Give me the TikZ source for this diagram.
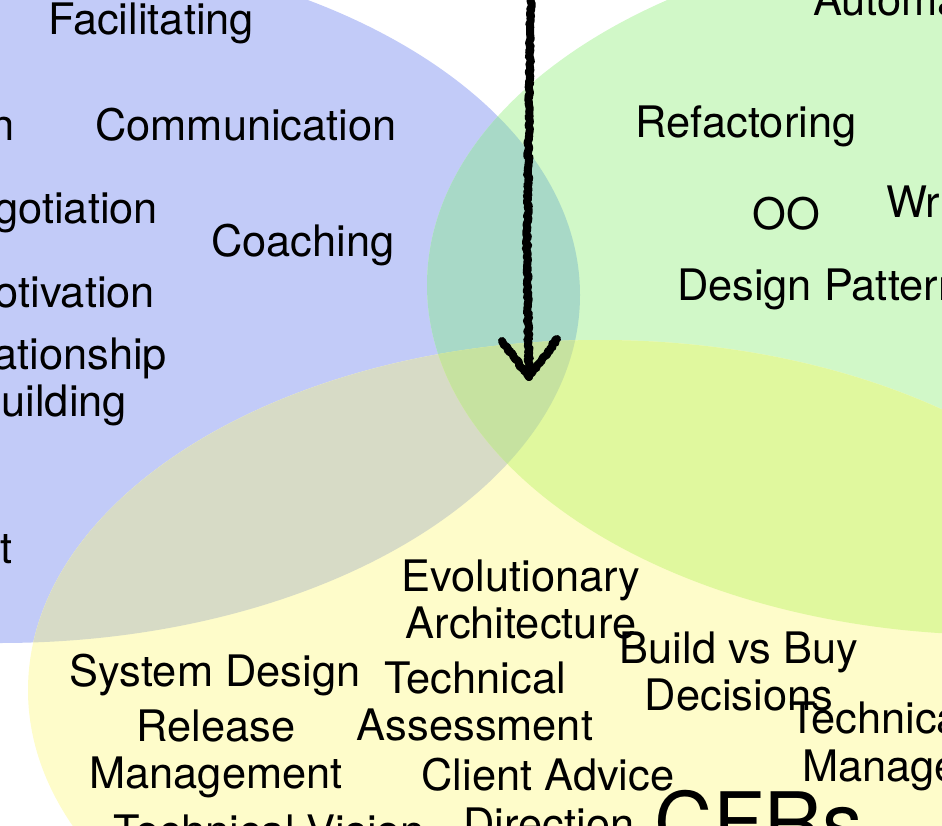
\documentclass[tikz,border=0pt]{standalone}
\usepackage{fontspec}
\setmainfont{TeX Gyre Heros}
\usetikzlibrary{positioning,decorations.pathmorphing}

\definecolor{softblue}{HTML}{C2CBF8}
\definecolor{techgreen}{HTML}{D1F8C8}
\definecolor{consultyellow}{HTML}{FEFCCA}
\definecolor{softtech}{HTML}{A8D9C7}
\definecolor{softconsult}{HTML}{D7DBC6}
\definecolor{techconsult}{HTML}{E0F89E}
\definecolor{allthree}{HTML}{C6E2A0}

\newcommand{\skillfont}{\fontsize{43.4}{47}\selectfont}
\newcommand{\hugeskillfont}{\fontsize{82}{90}\selectfont}

\tikzset{
  skill/.style={font=\skillfont, inner sep=0pt, outer sep=0pt, anchor=base},
  cutleft/.style={skill, anchor=base east},
  cutright/.style={skill, anchor=base west},
  sketch/.style={line width=8pt, line cap=round, line join=round, decorate,
    decoration={random steps, segment length=2pt, amplitude=1.2pt}}
}

\def\softskills{(0,295) ellipse [x radius=580pt, y radius=348pt]}
\def\techskills{(1000,285) ellipse [x radius=573pt, y radius=350pt]}
\def\consultskills{(600,690) ellipse [x radius=572pt, y radius=350pt]}

\begin{document}
\begin{tikzpicture}[x=1pt, y=-1pt]
  \useasboundingbox (0,0) rectangle (942,826);
  \clip (0,0) rectangle (942,826);

  % the three sets and their overlaps
  \fill[softblue] \softskills;
  \fill[techgreen] \techskills;
  \fill[consultyellow] \consultskills;
  \begin{scope}
    \clip \softskills;
    \fill[softtech] \techskills;
    \fill[softconsult] \consultskills;
  \end{scope}
  \begin{scope}
    \clip \techskills;
    \fill[techconsult] \consultskills;
  \end{scope}
  \begin{scope}
    \clip \softskills;
    \clip \techskills;
    \fill[allthree] \consultskills;
  \end{scope}

  % soft skills
  \node[skill] (facilitating) at (151,35) {Facilitating};
  \node[cutleft] (lefttop) at (15,141) {n};
  \node[skill] (communication) at (246,141) {Communication};
  \node[cutleft] (negotiation) at (158,224) {gotiation};
  \node[skill] (coaching) at (303,257) {Coaching};
  \node[cutleft] (motivation) at (155,307) {otivation};
  \node[cutleft] (relationship) at (167,369) {ationship};
  \node[cutleft] (building) at (127,416) {uilding};
  \node[cutleft] (leftbottom) at (13,563) {t};

  % technical skills
  \node[cutright] (automation) at (813,16) {Automa};
  \node[skill] (refactoring) at (746,138) {Refactoring};
  \node[skill] (oo) at (786,230) {OO};
  \node[cutright] (writing) at (886,218) {Wri};
  \node[cutright] (patterns) at (677,300) {Design Pattern};

  % consulting and architecture
  \node[skill, align=center] (evolutionary) at (521,638) {Evolutionary\\Architecture};
  \node[skill, align=center] (buildbuy) at (739,710) {Build vs Buy\\Decisions};
  \node[skill] (systemdesign) at (215,686) {System Design};
  \node[skill, align=center] (assessment) at (475,740) {Technical\\Assessment};
  \node[skill, align=center] (release) at (216,788) {Release\\Management};
  \node[cutright] (debt) at (789,733) {Technica};
  \node[cutright] (debtmgmt) at (802,781) {Manage};
  \node[skill] (clientadvice) at (548,790) {Client Advice};
  \node[skill] (vision) at (269,846) {Technical Vision};
  \node[skill] (direction) at (549,839) {Direction};
  \node[cutright, font=\hugeskillfont] (cfrs) at (654,851) {CFRs};

  % hand drawn arrow
  \coordinate (arrowtop) at (531,-8);
  \coordinate (arrowtip) at (529,377);
  \coordinate (barbleft) at (502,341);
  \coordinate (barbright) at (557,339);
  \draw[sketch] (arrowtop) -- (527,250) -- (arrowtip);
  \draw[sketch] (barbleft) -- (arrowtip) -- (barbright);
\end{tikzpicture}
\end{document}
